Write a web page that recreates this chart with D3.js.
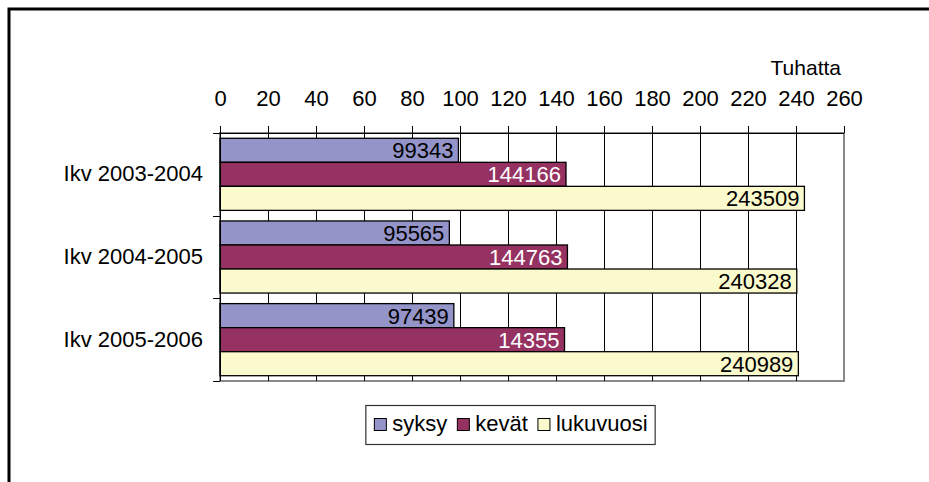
<!DOCTYPE html>
<html>
<head>
<meta charset="utf-8">
<script src="https://cdn.jsdelivr.net/npm/d3@7"></script>
<style>
  body { margin: 0; background: #fff; }
  svg text { font-family: "Liberation Sans", Arial, sans-serif; }
</style>
</head>
<body>
<svg id="chart" width="929" height="482"></svg>
<script>
const categories = ["Ikv 2003-2004", "Ikv 2004-2005", "Ikv 2005-2006"];
const seriesNames = ["syksy", "kevät", "lukuvuosi"];
const syksy = [99343, 95565, 97439];
const kevat = [144166, 144763, 143550];
const lukuvuosi = [243509, 240328, 240989];
// printed labels (the last kevät label is printed as 14355 in the source)
const kevatLabels = ["144166", "144763", "14355"];
const tickValues = [0, 20, 40, 60, 80, 100, 120, 140, 160, 180, 200, 220, 240, 260];
const colors = ["#9494c8", "#953262", "#fafacc"];
const labelColors = ["#000", "#fff", "#000"];

const seriesValues = [syksy, kevat, lukuvuosi];
const seriesLabels = [syksy.map(String), kevatLabels, lukuvuosi.map(String)];

const svg = d3.select("#chart");
const FONT = 22;

// outer frame
svg.append("rect")
  .attr("x", 9).attr("y", 9)
  .attr("width", 960).attr("height", 520)
  .attr("fill", "#fff")
  .attr("stroke", "#000")
  .attr("stroke-width", 3);

const x = d3.scaleLinear().domain([0, 260000]).range([220, 844]);
const y0 = d3.scaleBand().domain(categories).range([133, 381]);
const y1 = d3.scaleBand().domain(seriesNames).range([0, y0.bandwidth()])
  .paddingInner(0).paddingOuter(0.22);

// plot area border (grey)
svg.append("rect")
  .attr("x", x.range()[0]).attr("y", y0.range()[0])
  .attr("width", x.range()[1] - x.range()[0])
  .attr("height", y0.range()[1] - y0.range()[0])
  .attr("fill", "#fff")
  .attr("stroke", "#8a8a8a")
  .attr("stroke-width", 2);

// gridlines
svg.append("g")
  .selectAll("line")
  .data(tickValues.slice(1, -1))
  .join("line")
  .attr("x1", (d) => Math.round(x(d * 1000)) + 0.5)
  .attr("x2", (d) => Math.round(x(d * 1000)) + 0.5)
  .attr("y1", y0.range()[0])
  .attr("y2", y0.range()[1])
  .attr("stroke", "#000")
  .attr("stroke-width", 1);

// bars
const groups = svg.append("g")
  .selectAll("g")
  .data(categories)
  .join("g")
  .attr("transform", (d) => `translate(0,${y0(d)})`);

const rowData = (c, ci) => seriesNames.map((s, si) => ({
  s, si, v: seriesValues[si][ci], label: seriesLabels[si][ci]
}));

groups.selectAll("rect")
  .data(rowData)
  .join("rect")
  .attr("x", x(0))
  .attr("y", (d) => y1(d.s))
  .attr("width", (d) => x(d.v) - x(0))
  .attr("height", y1.bandwidth())
  .attr("fill", (d) => colors[d.si])
  .attr("stroke", "#000")
  .attr("stroke-width", 1.3);

groups.selectAll("text")
  .data(rowData)
  .join("text")
  .attr("x", (d) => x(d.v) - 5)
  .attr("y", (d) => y1(d.s) + y1.bandwidth() / 2 + 8)
  .attr("text-anchor", "end")
  .style("font-size", FONT + "px")
  .attr("fill", (d) => labelColors[d.si])
  .text((d) => d.label);

// top axis
const xAxis = d3.axisTop(x)
  .tickValues(tickValues.map((d) => d * 1000))
  .tickFormat((d) => d / 1000)
  .tickSizeInner(7)
  .tickSizeOuter(0)
  .tickPadding(20);

const axG = svg.append("g")
  .attr("transform", `translate(0,${y0.range()[0]})`)
  .call(xAxis);
axG.select(".domain").remove();
axG.selectAll("line").attr("stroke", "#000");
axG.selectAll("text")
  .style("font-size", FONT + "px")
  .style("font-family", '"Liberation Sans", Arial, sans-serif')
  .attr("fill", "#000");
svg.append("line")
  .attr("x1", 213).attr("x2", x.range()[1])
  .attr("y1", y0.range()[0] + 0.5).attr("y2", y0.range()[0] + 0.5)
  .attr("stroke", "#000");

// left axis
const yAxis = d3.axisLeft(y0).tickSize(0).tickPadding(17);
const ayG = svg.append("g")
  .attr("transform", `translate(${x.range()[0]},0)`)
  .call(yAxis);
ayG.select(".domain").remove();
ayG.selectAll("text")
  .style("font-size", FONT + "px")
  .style("font-family", '"Liberation Sans", Arial, sans-serif')
  .attr("fill", "#000");

svg.append("line")
  .attr("x1", x(0) + 0.5).attr("x2", x(0) + 0.5)
  .attr("y1", y0.range()[0]).attr("y2", y0.range()[1])
  .attr("stroke", "#000");

const bounds = categories.map((c) => y0(c)).concat([y0.range()[1]]);
svg.append("g")
  .selectAll("line")
  .data(bounds)
  .join("line")
  .attr("x1", 213).attr("x2", x(0))
  .attr("y1", (d) => Math.round(d) + 0.5)
  .attr("y2", (d) => Math.round(d) + 0.5)
  .attr("stroke", "#000");

// unit label
svg.append("text")
  .attr("x", 841)
  .attr("y", 75)
  .attr("text-anchor", "end")
  .style("font-size", "21px")
  .text("Tuhatta");

// legend
const legend = svg.append("g");
const legendBox = legend.append("rect")
  .attr("fill", "#fff")
  .attr("stroke", "#333")
  .attr("stroke-width", 1.2);

let lx = 0;
const items = [];
seriesNames.forEach((name, i) => {
  const g = legend.append("g");
  g.append("rect")
    .attr("x", lx).attr("y", 418.5)
    .attr("width", 12).attr("height", 12)
    .attr("fill", colors[i])
    .attr("stroke", "#000")
    .attr("stroke-width", 1);
  const t = g.append("text")
    .attr("x", lx + 18)
    .attr("y", 431)
    .style("font-size", "22px")
    .text(name);
  const w = t.node().getComputedTextLength();
  lx += 18 + w + 10;
  items.push(g);
});
const totalW = lx - 10;
const legendLeft = 511 - totalW / 2;
items.forEach((g) => g.attr("transform", `translate(${legendLeft},0)`));
legendBox
  .attr("x", legendLeft - 8.5)
  .attr("y", 405.5)
  .attr("width", totalW + 16)
  .attr("height", 39);
</script>
</body>
</html>
